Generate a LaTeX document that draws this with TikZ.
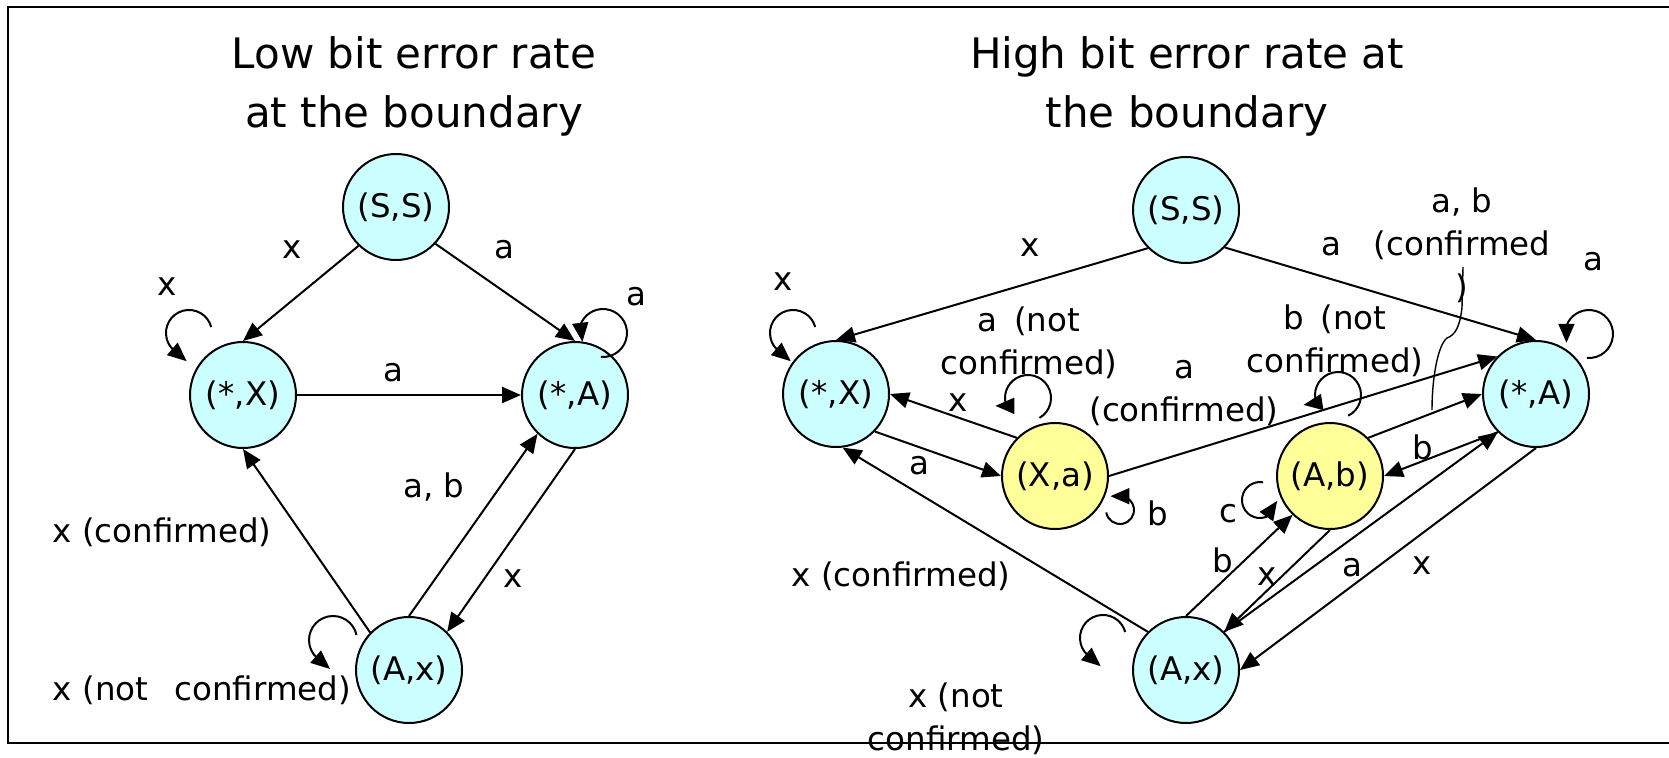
\documentclass[tikz,border=0pt]{standalone}
\usepackage{fontspec}
\setmainfont{DejaVu Sans}
\usetikzlibrary{arrows.meta}
\definecolor{cyanf}{HTML}{CCFFFF}
\definecolor{yelf}{HTML}{FFFF99}
\newcommand\labfont{\fontsize{16.25}{21.5}\selectfont}
\newcommand\titlefont{\fontsize{21}{29}\selectfont}
\begin{document}
\begin{tikzpicture}[x=0.5pt,y=0.5pt,
  st/.style={circle,draw,line width=1pt,minimum size=53pt,inner sep=0pt,font=\labfont},
  cy/.style={st,fill=cyanf},
  yl/.style={st,fill=yelf},
  edge/.style={line width=1pt,-{Triangle[length=9.5pt,width=8pt]}},
  lbl/.style={font=\labfont,inner sep=0pt,align=center},
  ttl/.style={font=\titlefont,inner sep=0pt,anchor=base},
  leader/.style={line width=0.7pt}]
\useasboundingbox (0,0) rectangle (1669,757);
\draw[line width=1pt] (1669,750) -- (8,750) -- (8,14) -- (1669,14);

% titles
\node[ttl] (t1a) at (414,689) {Low bit error rate};
\node[ttl] (t1b) at (414,630) {at the boundary};
\node[ttl] (t2a) at (1187,689) {High bit error rate at};
\node[ttl] (t2b) at (1187,630) {the boundary};

% left states
\node[cy] (SSL) at (396,550) {(S,S)};
\node[cy] (XL) at (243,362) {(*,X)};
\node[cy] (AL) at (575,362) {(*,A)};
\node[cy] (AxL) at (409,87) {(A,x)};

% right states
\node[cy] (SSR) at (1186,547) {(S,S)};
\node[cy] (XR) at (836,363) {(*,X)};
\node[yl] (Xa) at (1055,281) {(X,a)};
\node[yl] (Ab) at (1330,281) {(A,b)};
\node[cy] (AR) at (1536,363) {(*,A)};
\node[cy] (AxR) at (1186,87) {(A,x)};

% left edges
\draw[edge] (SSL.226) -- (XL.north);
\draw[edge] (SSL.317) -- (AL.north);
\draw[edge] (XL.east) -- (AL.west);
\draw[edge] (AxL.136) -- (XL.south);
\draw[edge] (AxL.north) -- (AL.226);
\draw[edge] (AL.south) -- (AxL.45);
% left loops
\draw[edge] ([shift={(-31.8,68)}]XL.center) arc[start angle=15,end angle=225,radius=23] -- ++(14,-12);
\draw[edge] ([shift={(25.9,38.1)}]AL.center) arc[start angle=-95,end angle=160,radius=24] -- ++(2,-17);
\draw[edge] ([shift={(-52.5,35)}]AxL.center) arc[start angle=12,end angle=225,radius=24] -- ++(14,-12);

% right edges
\draw[edge] (SSR.225) -- (XR.north);
\draw[edge] (SSR.316) -- (AR.north);
\draw[edge] (XR.316) -- (Xa.west);
\draw[edge] (Xa.135) -- (XR.east);
\draw[edge] (Xa.east) -- (AR.136);
\draw[edge] (Ab.45) -- (AR.west);
\draw[edge] (AR.225) -- (Ab.east);
\draw[edge] (AxR.north) -- (Ab.226);
\draw[edge] (Ab.south) -- (AxR.45);
\draw[edge] (AxR.45) -- (AR.225);
\draw[edge] (AR.south) -- (AxR.east);
\draw[edge] (AxR.135) -- (XR.-83);
% right loops
\draw[edge] ([shift={(-20.8,67)}]XR.center) arc[start angle=15,end angle=225,radius=23] -- ++(14,-12);
\draw[edge] ([shift={(50.9,36.1)}]AR.center) arc[start angle=-95,end angle=160,radius=24] -- ++(0,-17);
\draw[edge] ([shift={(-60.8,38)}]AxR.center) arc[start angle=15,end angle=225,radius=23] -- ++(14,-12);
\draw[edge] ([shift={(-15.5,58.1)}]Xa.center) arc[start angle=-60,end angle=200,radius=23] -- ++(-11,0);
\draw[edge] ([shift={(18.1,60.3)}]Ab.center) arc[start angle=-64,end angle=200,radius=23] -- ++(-13,-2);
\draw[edge] ([shift={(51.2,-36.4)}]Xa.center) arc[start angle=190,end angle=440,radius=14] -- ++(-12,0);
\draw[edge] ([shift={(-66.9,-6.3)}]Ab.center) arc[start angle=80,end angle=290,radius=18] -- ++(11,16);

% left labels
\node[lbl] (lx1) at (292,507) {x};
\node[lbl] (la1) at (504,507) {a};
\node[lbl] (lx2) at (167,470) {x};
\node[lbl] (la2) at (636,460) {a};
\node[lbl] (la3) at (393,384) {a};
\node[lbl] (lab1) at (434,270) {a, b};
\node[lbl] (lxc) at (162,225) {x (confirmed)};
\node[lbl] (lx3) at (513,178) {x};
\node[lbl] (lxnc) at (202,67) {x (not\hspace{0.8em}confirmed)};

% right labels
\node[lbl] (rx1) at (1030,509) {x};
\node[lbl] (rx2) at (783,475) {x};
\node[lbl] (ranc) at (1029,414) {a\hspace{0.5em}(not\\confirmed)};
\node[lbl] (rx3) at (958,354) {x};
\node[lbl] (ra1) at (919,291) {a};
\node[lbl] (rac) at (1184,364) {a\\(confirmed)};
\node[lbl] (rb1) at (1158,244) {b};
\node[lbl] (ra2) at (1331,510) {a};
\node[lbl] (rabc) at (1462,512) {a, b\\(confirmed\\)};
\node[lbl] (ra3) at (1593,495) {a};
\node[lbl] (rbnc) at (1335,416) {b\hspace{0.5em}(not\\confirmed)};
\node[lbl] (rb2) at (1423,310) {b};
\node[lbl] (rc) at (1228,243) {c};
\node[lbl] (rb3) at (1223,197) {b};
\node[lbl] (rx4) at (1267,180) {x};
\node[lbl] (ra4) at (1352,189) {a};
\node[lbl] (rx5) at (1422,191) {x};
\node[lbl] (rxc) at (901,181) {x (confirmed)};
\node[lbl] (rxnc) at (956,38) {x (not\\confirmed)};

% leader from label to edge
\coordinate (ld1) at (1463,490);
\coordinate (ld2) at (1432,347);
\draw[leader] (ld1) -- (1462,450) .. controls (1460,430) and (1455,422) .. (1447,419) .. controls (1438,412) and (1432,380) .. (ld2);
\end{tikzpicture}
\end{document}
